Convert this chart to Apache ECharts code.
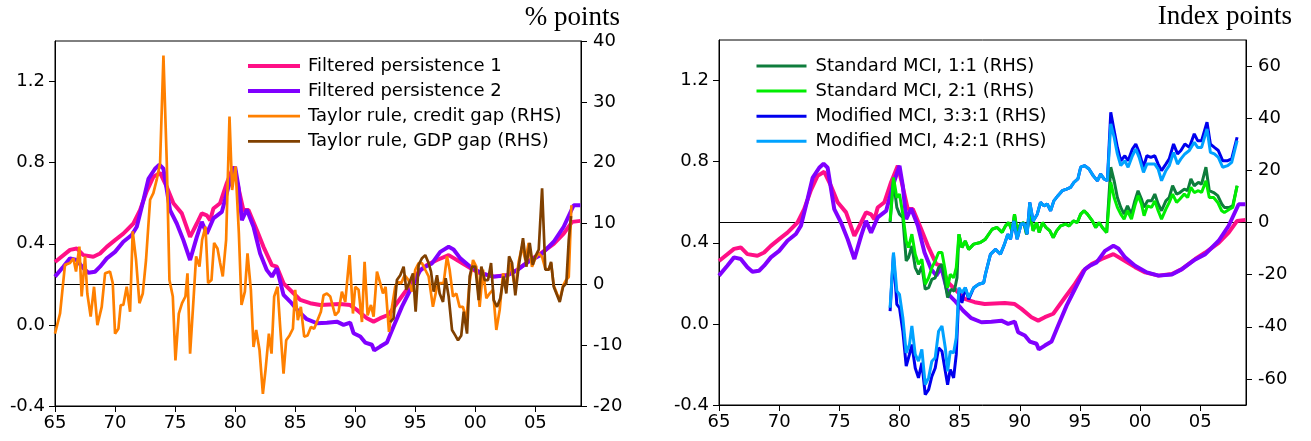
<!DOCTYPE html>
<html><head><meta charset="utf-8">
<script src="https://cdn.jsdelivr.net/npm/echarts@6/dist/echarts.min.js"></script>
<style>html,body{margin:0;padding:0;background:#fff}#c{width:1311px;height:441px}</style>
</head><body><div id="c"></div>
<script>
// ---- tick values ----
const xTicks = [1965,1970,1975,1980,1985,1990,1995,2000,2005];
const leftTicks = [-0.4,0,0.4,0.8,1.2];
const rhsTicksA = [-20,-10,0,10,20,30,40];
const rhsTicksB = [-60,-40,-20,0,20,40,60];

// ---- Filtered persistence (LHS) ----
const fp1 = [[1965.00,0.31],[1966.25,0.37],[1966.81,0.377],[1967.36,0.344],[1968.19,0.336],[1968.75,0.352],[1969.31,0.385],[1970.0,0.418],[1970.69,0.45],[1971.53,0.50],[1972.08,0.566],[1972.64,0.66],[1973.19,0.73],[1973.75,0.75],[1974.31,0.68],[1974.86,0.60],[1975.56,0.55],[1976.25,0.434],[1976.81,0.50],[1977.22,0.55],[1977.64,0.54],[1977.92,0.516],[1978.19,0.574],[1978.75,0.60],[1979.31,0.70],[1979.86,0.78],[1980.14,0.71],[1980.69,0.566],[1981.11,0.566],[1981.81,0.467],[1982.36,0.385],[1983.06,0.295],[1983.47,0.287],[1984.03,0.205],[1984.86,0.156],[1985.42,0.123],[1986.25,0.107],[1987.08,0.098],[1988.75,0.103],[1989.58,0.098],[1990.14,0.074],[1990.97,0.033],[1991.53,0.016],[1992.08,0.033],[1992.78,0.05],[1993.75,0.13],[1994.58,0.197],[1995.28,0.262],[1995.97,0.295],[1996.81,0.32],[1997.78,0.344],[1998.75,0.31],[1999.58,0.28],[2000.42,0.254],[2001.53,0.238],[2002.64,0.246],[2003.47,0.27],[2004.58,0.32],[2005.42,0.352],[2006.53,0.40],[2007.36,0.45],[2008.06,0.508],[2008.75,0.513]];
const fp2 = [[1965.0,0.238],[1965.69,0.287],[1966.25,0.328],[1966.81,0.32],[1967.36,0.279],[1967.78,0.257],[1968.33,0.262],[1968.75,0.287],[1969.31,0.328],[1970.0,0.36],[1970.69,0.41],[1971.39,0.443],[1971.81,0.484],[1972.36,0.615],[1972.78,0.72],[1973.33,0.77],[1973.69,0.79],[1974.03,0.77],[1974.58,0.566],[1975.14,0.50],[1975.69,0.418],[1976.25,0.32],[1976.81,0.434],[1977.22,0.508],[1977.64,0.45],[1978.19,0.525],[1978.89,0.557],[1979.44,0.68],[1980.0,0.78],[1980.28,0.68],[1980.56,0.516],[1980.97,0.569],[1981.53,0.484],[1982.08,0.352],[1982.64,0.27],[1983.06,0.238],[1983.47,0.279],[1984.03,0.148],[1984.58,0.115],[1985.28,0.066],[1985.97,0.028],[1986.81,0.008],[1987.64,0.011],[1988.47,0.016],[1989.03,0.0],[1989.58,0.011],[1989.86,-0.041],[1990.42,-0.057],[1990.83,-0.087],[1991.39,-0.098],[1991.58,-0.126],[1992.08,-0.107],[1992.64,-0.087],[1993.19,-0.008],[1993.89,0.09],[1994.58,0.172],[1995.42,0.27],[1995.83,0.287],[1996.39,0.303],[1997.08,0.36],[1997.78,0.385],[1998.19,0.372],[1998.75,0.328],[1999.58,0.287],[2000.56,0.254],[2001.53,0.238],[2002.64,0.243],[2003.47,0.27],[2004.58,0.318],[2005.42,0.344],[2006.53,0.41],[2007.36,0.484],[2008.19,0.59],[2008.75,0.59]];

// ---- Taylor rules (RHS, % points) ----
const taylorCredit = [[1965.00,-8.1],[1965.42,-4.8],[1965.83,3.2],[1966.25,3.5],[1966.53,4.3],[1966.75,2.1],[1967.03,6.2],[1967.22,-2.0],[1967.5,4.6],[1967.69,-1.5],[1967.97,-5.3],[1968.25,-0.4],[1968.53,-6.7],[1968.89,-3.7],[1969.17,1.8],[1969.58,2.1],[1969.81,0.2],[1970.0,-8.1],[1970.28,-7.3],[1970.47,-3.4],[1970.69,-3.4],[1970.97,-0.4],[1971.25,-4.5],[1971.47,8.7],[1971.75,4.0],[1972.03,-3.1],[1972.31,-1.5],[1972.58,4.0],[1972.92,13.9],[1973.19,15.0],[1973.47,17.2],[1973.75,19.9],[1974.03,37.6],[1974.31,19.9],[1974.53,0.7],[1974.81,-2.0],[1975.03,-12.5],[1975.31,-4.8],[1975.58,-3.1],[1975.86,-2.0],[1976.03,1.8],[1976.25,-11.4],[1976.53,-2.6],[1976.75,4.6],[1977.03,2.9],[1977.25,7.3],[1977.53,9.5],[1977.75,0.2],[1978.03,0.7],[1978.25,6.8],[1978.53,5.9],[1978.75,3.5],[1978.97,1.3],[1979.25,7.3],[1979.53,27.6],[1979.75,15.5],[1980.03,19.4],[1980.31,8.4],[1980.53,-3.4],[1980.81,-1.2],[1981.03,5.1],[1981.31,-0.9],[1981.53,-10.3],[1981.75,-7.5],[1982.03,-10.8],[1982.31,-18.0],[1982.53,-14.1],[1982.81,-8.1],[1983.03,-11.4],[1983.25,-2.0],[1983.53,-0.4],[1983.75,-7.0],[1984.03,-14.7],[1984.25,-9.2],[1984.53,-8.4],[1984.81,-7.3],[1985.0,-0.9],[1985.22,-5.9],[1985.47,-3.7],[1985.75,-8.6],[1986.03,-8.4],[1986.31,-7.0],[1986.58,-7.3],[1986.86,-5.9],[1987.14,-4.5],[1987.36,-1.8],[1987.64,-1.5],[1987.92,-2.0],[1988.33,-5.1],[1988.61,-4.5],[1988.89,-1.2],[1989.17,-2.9],[1989.31,-2.6],[1989.53,4.8],[1989.81,-4.8],[1990.0,-0.4],[1990.28,-0.9],[1990.56,-6.2],[1990.78,3.7],[1991.03,-5.1],[1991.31,-3.4],[1991.53,-5.3],[1991.81,2.1],[1992.08,0.2],[1992.31,-1.5],[1992.53,-0.4],[1992.81,-7.8],[1993.06,-3.7],[1993.33,-0.4],[1993.56,0.4],[1993.83,0.2],[1994.11,1.5],[1994.44,0.7],[1994.72,-1.2],[1995.0,2.4],[1995.28,3.5],[1995.56,3.5],[1995.83,2.4],[1996.11,1.3],[1996.47,-3.7],[1996.81,-0.4],[1997.08,0.2],[1997.36,0.2],[1997.64,4.6],[1997.86,2.4],[1998.14,-2.0],[1998.42,-1.5],[1998.69,-3.7],[1998.97,-3.7],[1999.25,-5.9],[1999.53,0.4],[1999.81,4.0],[2000.08,2.9],[2000.36,-3.7],[2000.64,2.4],[2000.92,-2.3],[2001.19,-1.5],[2001.47,-0.9],[2001.75,-7.5],[2002.03,-4.2],[2002.31,1.8],[2002.58,-0.9],[2002.86,3.5],[2003.14,1.3],[2003.33,-0.7],[2003.61,3.7],[2003.89,6.2],[2004.17,4.0],[2004.44,6.8],[2004.72,2.9],[2005.0,4.3],[2005.28,5.1],[2005.56,4.5],[2005.83,2.6],[2006.11,2.4],[2006.31,3.5],[2006.53,-0.2],[2006.81,-1.6],[2007.03,-2.6],[2007.31,-0.2],[2007.55,0.7],[2007.78,1.2],[2008.0,13.0]];
const taylorGDP = [[1992.92,-6.2],[1993.19,-5.6],[1993.47,0.7],[1993.75,1.5],[1994.03,2.9],[1994.25,-0.9],[1994.53,0.4],[1994.81,1.8],[1995.03,-4.5],[1995.28,3.2],[1995.56,4.3],[1995.83,4.8],[1996.11,3.5],[1996.31,2.1],[1996.53,-1.2],[1996.81,1.5],[1997.03,-1.5],[1997.31,-2.9],[1997.53,1.0],[1997.78,-2.0],[1998.06,-7.5],[1998.33,-8.4],[1998.56,-9.2],[1998.83,-8.4],[1999.03,-4.5],[1999.31,-8.1],[1999.53,1.3],[1999.72,2.9],[2000.0,2.9],[2000.28,-2.6],[2000.5,2.9],[2000.78,0.7],[2001.06,0.7],[2001.31,3.5],[2001.53,-2.6],[2001.81,-3.7],[2002.08,-2.3],[2002.36,1.3],[2002.58,-1.5],[2002.81,4.6],[2003.06,3.5],[2003.33,-1.8],[2003.61,2.9],[2003.97,7.6],[2004.25,2.9],[2004.53,6.8],[2004.78,3.2],[2005.0,4.6],[2005.28,5.7],[2005.56,15.8],[2005.83,2.4],[2006.11,2.4],[2006.31,3.7],[2006.53,-0.4],[2006.81,-1.8],[2007.03,-2.9],[2007.31,-0.4],[2007.58,0.2],[2007.78,7.3],[2007.97,11.2]];

// ---- MCIs (RHS, index points) ----
const mciStd21 = [[1979.22,0.6],[1979.5,17.3],[1979.78,9.6],[1980.0,10.9],[1980.28,3.2],[1980.56,-7.1],[1980.75,-9.6],[1981.03,-4.5],[1981.31,-12.2],[1981.58,-16.0],[1981.86,-14.1],[1982.14,-23.7],[1982.42,-21.2],[1982.69,-17.3],[1982.97,-14.7],[1983.25,-11.5],[1983.53,-11.5],[1983.81,-18.6],[1984.0,-25],[1984.22,-19.9],[1984.5,-21.2],[1984.72,-17.3],[1984.94,-4.5],[1985.19,-9.6],[1985.47,-7.1],[1985.75,-10.3],[1986.17,-8.3],[1986.72,-7.7],[1987.14,-6.4],[1987.28,-5.8],[1987.70,-2.6],[1988.11,-1.9],[1988.53,-3.8],[1988.81,-1.3],[1989.08,0],[1989.36,-3.2],[1989.56,3.2],[1989.78,-3.2],[1990.06,-0.6],[1990.33,0],[1990.56,-4.5],[1990.83,3.8],[1991.11,-3.2],[1991.39,0],[1991.61,-3.8],[1991.89,0],[1992.17,-1.9],[1992.5,-3.2],[1992.78,-5.8],[1993.06,-3.2],[1993.39,-1.3],[1993.81,-0.6],[1994.08,-1.3],[1994.45,0.6],[1994.78,0],[1995.06,3.2],[1995.34,4.5],[1995.62,3.2],[1996.03,0.6],[1996.31,-1.9],[1996.59,0],[1996.86,-1.9],[1997.22,-3.8],[1997.56,15.4],[1997.84,9.6],[1998.11,5.8],[1998.39,3.2],[1998.67,1.3],[1998.95,4.5],[1999.28,1.3],[1999.56,6.4],[1999.83,10.3],[2000.11,7.1],[2000.33,2.6],[2000.61,6.4],[2000.95,5.8],[2001.22,8.3],[2001.5,4.5],[2001.78,1.3],[2002.14,5.1],[2002.42,7.7],[2002.70,10.9],[2003.03,7.7],[2003.31,9.0],[2003.67,10.9],[2003.95,9.6],[2004.22,13.5],[2004.5,11.5],[2004.84,12.2],[2005.11,11.5],[2005.47,16.0],[2005.75,9.6],[2006.11,9.6],[2006.45,7.7],[2006.78,4.5],[2007.0,3.8],[2007.42,5.1],[2007.70,5.8],[2008.06,14.1]];
const mciStd11 = [[1979.22,0],[1979.5,16],[1979.78,5.8],[1980.0,3.2],[1980.28,1.9],[1980.56,-14.7],[1980.75,-13.5],[1981.03,-9.0],[1981.31,-17.3],[1981.58,-19.9],[1981.86,-16.7],[1982.14,-25.6],[1982.42,-25],[1982.69,-21.8],[1982.97,-21.2],[1983.25,-17.3],[1983.53,-16.0],[1983.81,-23.7],[1984.0,-28.8],[1984.28,-25.6],[1984.56,-26.3],[1984.78,-21.2],[1984.94,-4.5],[1985.19,-9.6],[1985.47,-7.1],[1985.75,-10.3],[1986.17,-8.3],[1986.72,-7.7],[1987.14,-6.4],[1987.28,-5.8],[1987.70,-2.6],[1988.11,-1.9],[1988.53,-3.8],[1988.81,-1.3],[1989.08,0],[1989.36,-3.2],[1989.56,3.2],[1989.78,-3.2],[1990.06,-0.6],[1990.33,0],[1990.56,-4.5],[1990.83,3.8],[1991.11,-3.2],[1991.39,0],[1991.61,-3.8],[1991.89,0],[1992.17,-1.9],[1992.5,-3.2],[1992.78,-5.8],[1993.06,-3.2],[1993.39,-1.3],[1993.81,-0.6],[1994.08,-1.3],[1994.45,0.6],[1994.78,0],[1995.06,3.2],[1995.34,4.5],[1995.62,3.2],[1996.03,0.6],[1996.31,-1.9],[1996.59,0],[1996.86,-1.9],[1997.22,-3.8],[1997.56,21.2],[1997.84,16.0],[1998.11,9.6],[1998.39,5.8],[1998.67,3.2],[1998.95,6.4],[1999.28,3.2],[1999.56,8.3],[1999.83,12.2],[2000.11,9.0],[2000.33,5.8],[2000.61,8.3],[2000.95,8.3],[2001.22,10.9],[2001.5,7.1],[2001.78,4.5],[2002.14,8.3],[2002.42,9.6],[2002.70,14.1],[2003.03,10.9],[2003.31,11.5],[2003.67,12.8],[2003.95,12.2],[2004.22,16.7],[2004.5,14.1],[2004.84,15.4],[2005.11,14.7],[2005.47,21.2],[2005.75,12.2],[2006.11,11.5],[2006.45,10.3],[2006.78,7.1],[2007.0,5.8],[2007.42,5.8],[2007.70,6.4],[2008.06,14.1]];
const mciMod331 = [[1979.22,-34.0],[1979.5,-12.2],[1979.78,-31.4],[1980.0,-32.7],[1980.28,-41.7],[1980.56,-55.1],[1980.83,-50.6],[1981.03,-46.8],[1981.31,-55.8],[1981.58,-59.6],[1981.86,-53.8],[1982.14,-66.0],[1982.42,-64.1],[1982.69,-59.0],[1982.97,-55.8],[1983.25,-48.1],[1983.53,-49.4],[1983.81,-57.1],[1984.0,-62.2],[1984.22,-56.4],[1984.5,-59.6],[1984.72,-50.6],[1984.94,-26.3],[1985.19,-30.8],[1985.47,-25.0],[1985.75,-29.5],[1986.17,-25],[1986.58,-23.7],[1987.0,-23.1],[1987.14,-19.9],[1987.56,-12.2],[1987.98,-10.3],[1988.39,-12.2],[1988.73,-8.3],[1989.0,-4.5],[1989.23,-6.4],[1989.5,0.6],[1989.78,-6.4],[1990.11,-0.6],[1990.39,-0.6],[1990.61,-4.5],[1990.83,7.7],[1991.11,0.6],[1991.45,3.2],[1991.72,7.7],[1992.0,6.4],[1992.28,7.1],[1992.56,4.5],[1992.83,8.3],[1993.17,10.3],[1993.53,12.2],[1993.89,12.8],[1994.22,13.5],[1994.5,15.4],[1994.83,16.7],[1995.06,21.2],[1995.39,21.8],[1995.75,20.5],[1996.11,17.9],[1996.45,16.0],[1996.72,18.6],[1997.0,16.7],[1997.28,16.0],[1997.56,42.3],[1997.84,35.3],[1998.11,28.8],[1998.39,23.7],[1998.73,25.6],[1999.0,23.7],[1999.36,28.2],[1999.64,30.1],[1999.92,26.9],[2000.28,21.2],[2000.56,25.6],[2000.89,25],[2001.22,25.6],[2001.5,22.4],[2001.78,19.9],[2002.14,22.4],[2002.42,24.4],[2002.78,30.1],[2003.11,26.3],[2003.39,27.6],[2003.72,30.1],[2004.09,28.8],[2004.5,34.0],[2004.78,31.4],[2005.11,31.4],[2005.56,38.5],[2005.84,30.1],[2006.17,28.8],[2006.5,27.6],[2006.86,23.7],[2007.28,23.7],[2007.61,24.4],[2008.06,32.7]];
const mciMod421 = [[1979.22,-32.7],[1979.5,-11.5],[1979.78,-26.3],[1980.0,-27.6],[1980.28,-36.5],[1980.56,-50.0],[1980.83,-46.8],[1981.03,-39.7],[1981.31,-50.6],[1981.58,-53.2],[1981.86,-48.7],[1982.14,-62.2],[1982.42,-59.6],[1982.69,-53.2],[1982.97,-51.9],[1983.25,-41.7],[1983.53,-39.7],[1983.81,-48.1],[1984.0,-57.1],[1984.22,-49.4],[1984.5,-50.0],[1984.72,-44.2],[1984.94,-25.0],[1985.19,-26.9],[1985.47,-25.0],[1985.75,-28.8],[1986.17,-25],[1986.58,-23.7],[1987.0,-23.1],[1987.14,-19.9],[1987.56,-12.2],[1987.98,-10.3],[1988.39,-12.2],[1988.73,-8.3],[1989.0,-4.5],[1989.23,-6.4],[1989.5,0.6],[1989.78,-6.4],[1990.11,-0.6],[1990.39,-0.6],[1990.61,-4.5],[1990.83,7.7],[1991.11,0.6],[1991.45,3.2],[1991.72,7.7],[1992.0,6.4],[1992.28,7.1],[1992.56,4.5],[1992.83,8.3],[1993.17,10.3],[1993.53,12.2],[1993.89,12.8],[1994.22,13.5],[1994.5,15.4],[1994.83,16.7],[1995.06,21.2],[1995.39,21.8],[1995.75,20.5],[1996.11,17.9],[1996.45,16.0],[1996.72,18.6],[1997.0,16.7],[1997.28,16.0],[1997.56,37.8],[1997.84,32.7],[1998.11,26.3],[1998.39,21.8],[1998.73,23.7],[1999.0,21.2],[1999.36,25.6],[1999.64,28.2],[1999.92,25],[2000.28,19.2],[2000.56,22.4],[2000.89,22.4],[2001.22,22.4],[2001.5,20.5],[2001.78,16.0],[2002.14,19.9],[2002.42,21.8],[2002.78,26.9],[2003.11,22.4],[2003.39,24.4],[2003.72,26.3],[2004.09,27.6],[2004.5,30.8],[2004.78,28.8],[2005.11,28.8],[2005.56,35.9],[2005.84,26.9],[2006.17,26.3],[2006.5,25],[2006.86,21.2],[2007.28,21.8],[2007.61,23.1],[2008.06,31.4]];

const FONT = 'DejaVu Sans';
const C = {fp1:'#ff0f86', fp2:'#8000ff', credit:'#ff8000', gdp:'#804000', s11:'#0e7d3c', s21:'#00ee00', m331:'#0000ee', m421:'#00a2ff'};

function xAxis(g){
  return {gridIndex:g, type:'value', min:1965, max:2008.8, interval:5,
    axisLine:{show:true, onZero:false, lineStyle:{color:'#000', width:1}},
    axisTick:{show:true, inside:false, length:6, customValues:xTicks, lineStyle:{color:'#000'}},
    axisLabel:{customValues:xTicks, margin:8, color:'#000', fontFamily:FONT, fontSize:18,
      formatter:v => (v % 5 === 0) ? String(v % 100).padStart(2,'0') : ''},
    splitLine:{show:false}};
}
function yLeft(g){
  return {gridIndex:g, type:'value', position:'left', min:-0.4, max:1.4, interval:0.4,
    axisLine:{show:true, onZero:false, lineStyle:{color:'#000'}},
    axisTick:{show:true, inside:false, length:6, customValues:leftTicks, lineStyle:{color:'#000'}},
    axisLabel:{customValues:leftTicks, margin:10, color:'#000', fontFamily:FONT, fontSize:18,
      formatter:v => leftTicks.some(t => Math.abs(t - v) < 1e-6) ? v.toFixed(1) : ''},
    splitLine:{show:false}};
}
function yRight(g, min, max, interval, ticks){
  return {gridIndex:g, type:'value', position:'right', min:min, max:max, interval:interval,
    axisLine:{show:true, onZero:false, lineStyle:{color:'#000'}},
    axisTick:{show:true, inside:false, length:6, customValues:ticks, lineStyle:{color:'#000'}},
    axisLabel:{customValues:ticks, margin:12, color:'#000', fontFamily:FONT, fontSize:18,
      formatter:v => ticks.indexOf(v) >= 0 ? String(v) : ''},
    splitLine:{show:false}};
}
function line(name, data, color, width, xi, yi, extra){
  return Object.assign({type:'line', name:name, data:data, xAxisIndex:xi, yAxisIndex:yi,
    symbol:'none', showSymbol:false, silent:true, animation:false,
    lineStyle:{color:color, width:width}, itemStyle:{color:color}}, extra || {});
}
const zeroLine = {markLine:{silent:true, symbol:'none', z:1, animation:false,
  label:{show:false}, lineStyle:{color:'#000', width:1, type:'solid'}, data:[{yAxis:0}]}};

function legend(left, width, textPad, items){
  return {orient:'vertical', left:left, top:57, padding:0, itemWidth:width, itemHeight:20, itemGap:7.1,
    selectedMode:false, itemStyle:{opacity:0},
    textStyle:{fontFamily:FONT, fontSize:18, color:'#000', padding:[0,0,0,textPad]},
    data:items.map(it => ({name:it[0], lineStyle:{width:it[1], color:it[2]}, itemStyle:{opacity:0}}))};
}

const chart = echarts.init(document.getElementById('c'), null, {renderer:'canvas'});
chart.setOption({
  backgroundColor:'#fff',
  animation:false,
  title:[
    {text:'% points', right:691, top:4, padding:0, textStyle:{fontFamily:'Liberation Serif', fontSize:27, fontWeight:'normal', color:'#000'}},
    {text:'Index points', right:19, top:3, padding:0, textStyle:{fontFamily:'Liberation Serif', fontSize:27, fontWeight:'normal', color:'#000'}}
  ],
  grid:[
    {left:55, right:730, top:41, bottom:35, show:true, borderColor:'#000', borderWidth:1, backgroundColor:'transparent'},
    {left:719, right:65, top:40, bottom:36, show:true, borderColor:'#000', borderWidth:1, backgroundColor:'transparent'}
  ],
  xAxis:[xAxis(0), xAxis(1)],
  yAxis:[yLeft(0), yRight(0,-20,40,10,rhsTicksA), yLeft(1), yRight(1,-70,70,10,rhsTicksB)],
  legend:[
    legend(246, 52, 3, [['Filtered persistence 1',4,C.fp1],['Filtered persistence 2',4,C.fp2],['Taylor rule, credit gap (RHS)',2.7,C.credit],['Taylor rule, GDP gap (RHS)',2.7,C.gdp]]),
    legend(755, 50, 4, [['Standard MCI, 1:1 (RHS)',3,C.s11],['Standard MCI, 2:1 (RHS)',3,C.s21],['Modified MCI, 3:3:1 (RHS)',3,C.m331],['Modified MCI, 4:2:1 (RHS)',3,C.m421]])
  ],
  series:[
    line('Filtered persistence 1', fp1, C.fp1, 4, 0, 0, {z:2}),
    line('Filtered persistence 2', fp2, C.fp2, 4, 0, 0, {z:3}),
    line('Taylor rule, credit gap (RHS)', taylorCredit, C.credit, 2.7, 0, 1, Object.assign({z:4}, zeroLine)),
    line('Taylor rule, GDP gap (RHS)', taylorGDP, C.gdp, 2.7, 0, 1, {z:5}),
    line('Filtered persistence 1', fp1, C.fp1, 4, 1, 2, {z:2}),
    line('Filtered persistence 2', fp2, C.fp2, 4, 1, 2, {z:3}),
    line('Standard MCI, 1:1 (RHS)', mciStd11, C.s11, 3, 1, 3, Object.assign({z:4}, zeroLine)),
    line('Standard MCI, 2:1 (RHS)', mciStd21, C.s21, 3, 1, 3, {z:5}),
    line('Modified MCI, 3:3:1 (RHS)', mciMod331, C.m331, 3, 1, 3, {z:6}),
    line('Modified MCI, 4:2:1 (RHS)', mciMod421, C.m421, 3, 1, 3, {z:7})
  ]
});
</script></body></html>
